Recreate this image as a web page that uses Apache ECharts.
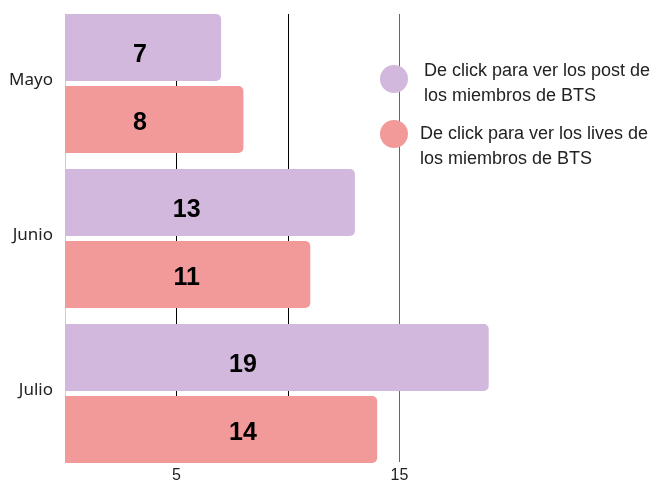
<!DOCTYPE html>
<html>
<head>
<meta charset="utf-8">
<script src="https://cdn.jsdelivr.net/npm/echarts@6/dist/echarts.min.js"></script>
<style>
  html, body { margin: 0; padding: 0; background: #fff; }
  #chart { width: 657px; height: 481px; }
</style>
</head>
<body>
<div id="chart"></div>
<script>
const categories = ['Mayo', 'Junio', 'Julio']
const seriesNames = [
  'De click para ver los post de\nlos miembros de BTS',
  'De click para ver los lives de\nlos miembros de BTS',
]
const postValues = [7, 13, 19]
const livesValues = [8, 11, 14]
const tickLabels = ['5', '15']

const colors = ['#d1b8dc', '#f29a99']

// labels sit at roughly the same x within a category (about 42% of the longer bar)
function labelData(values, other, yPct) {
  return values.map((v, i) => {
    const pct = (0.42 * Math.max(v, other[i]) / v) * 100
    return {
      value: v,
      label: { position: [pct + '%', yPct] },
    }
  })
}

const chart = echarts.init(document.getElementById('chart'))

const barLabel = {
  show: true,
  align: 'center',
  verticalAlign: 'middle',
  color: '#000',
  fontWeight: 'bold',
  fontSize: 25,
  fontFamily: 'Liberation Sans',
}

// a blank first line moves the dot up against the text
function legendItem(name, top, gapLine, padLeft) {
  return {
    orient: 'vertical',
    left: 375,
    top: top,
    itemWidth: 30,
    itemHeight: 28,
    icon: 'circle',
    formatter: n => '{s| }\n' + n.split('\n').map(t => '{a|' + t + '}').join('\n'),
    textStyle: {
      padding: [0, 0, 0, padLeft],
      rich: {
        s: { lineHeight: gapLine, fontSize: 4 },
        a: {
          fontFamily: 'Liberation Sans',
          fontSize: 18,
          lineHeight: 25,
          color: '#222',
        },
      },
    },
    data: [name],
  }
}

const option = {
  animation: false,
  grid: [
    // bars
    { left: 65, right: 146, top: 6, bottom: 10, outerBoundsMode: 'none' },
    // split lines + tick labels
    { left: 65, right: 146, top: 14, bottom: 19, outerBoundsMode: 'none' },
  ],
  legend: [
    legendItem(seriesNames[0], 47, 9, 10),
    legendItem(seriesNames[1], 102, 25, 6),
  ],
  xAxis: [
    {
      gridIndex: 0,
      type: 'value',
      min: 0,
      max: 20,
      interval: 5,
      axisLine: { show: false },
      axisTick: { show: false },
      axisLabel: { show: false },
      splitLine: { show: false },
    },
    {
      gridIndex: 1,
      type: 'value',
      min: 0,
      max: 20,
      interval: 5,
      axisLine: { show: false },
      axisTick: { show: false },
      axisLabel: {
        margin: 6,
        color: '#222',
        fontSize: 16,
        fontFamily: 'Liberation Sans',
        formatter: v => (tickLabels.indexOf(String(v)) >= 0 ? String(v) : ''),
      },
      splitLine: {
        show: true,
        lineStyle: {
          color: ['transparent', '#000', '#000', '#666', 'transparent'],
          width: 1,
        },
      },
    },
  ],
  yAxis: [
    {
      gridIndex: 0,
      type: 'category',
      inverse: true,
      data: categories,
      axisLine: { show: false },
      axisTick: { show: false },
      axisLabel: {
        margin: 12,
        color: '#222',
        fontSize: 17,
        fontFamily: 'Noto Sans',
        verticalAlign: 'bottom',
        lineHeight: 6,
      },
    },
    {
      gridIndex: 1,
      type: 'value',
      axisLine: { show: true, lineStyle: { color: '#cccccc' } },
      axisTick: { show: false },
      axisLabel: { show: false },
      splitLine: { show: false },
    },
  ],
  series: [
    {
      name: seriesNames[0],
      type: 'bar',
      xAxisIndex: 0,
      yAxisIndex: 0,
      barCategoryGap: '10.3%',
      barGap: '7.5%',
      itemStyle: { color: colors[0], borderRadius: [0, 5, 5, 0] },
      label: barLabel,
      data: labelData(postValues, livesValues, '62%'),
      z: 3,
    },
    {
      name: seriesNames[1],
      type: 'bar',
      xAxisIndex: 0,
      yAxisIndex: 0,
      barCategoryGap: '10.3%',
      barGap: '7.5%',
      itemStyle: { color: colors[1], borderRadius: [0, 5, 5, 0] },
      label: barLabel,
      data: labelData(livesValues, postValues, '55%'),
      z: 3,
    },
  ],
}

chart.setOption(option)
</script>
</body>
</html>
